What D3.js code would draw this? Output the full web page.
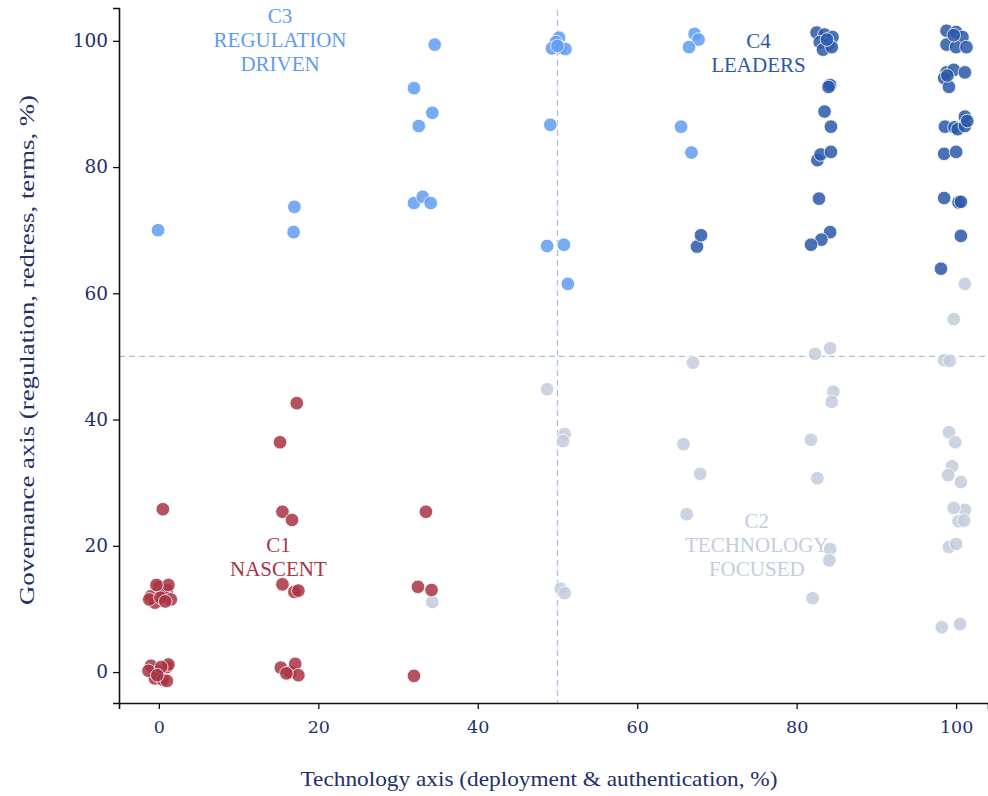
<!DOCTYPE html>
<html><head><meta charset="utf-8">
<script src="https://cdn.jsdelivr.net/npm/d3@7"></script>
<style>
html,body{margin:0;padding:0;background:#fff;}
svg{display:block;}
</style></head>
<body>
<svg id="chart" width="988" height="796"></svg>
<script>
// ---- data ----
const clusterNames = ["C1", "C2", "C3", "C4"];
const clusterLabels = [["C1","NASCENT"],["C2","TECHNOLOGY","FOCUSED"],["C3","REGULATION","DRIVEN"],["C4","LEADERS"]];
const clusterColors = ["#a83444", "#c3cddd", "#5f9cf2", "#2a58a8"];
const xTicks = [0, 20, 40, 60, 80, 100];
const yTicks = [0, 20, 40, 60, 80, 100];
const xTitle = "Technology axis (deployment & authentication, %)";
const yTitle = "Governance axis (regulation, redress, terms, %)";
const c1Points = [
  [-1,12],[0,13.5],[1,13],[-0.5,11],[0.5,12.5],[1.5,11.5],[-1.2,11.5],[0.2,11.8],[1.2,13.8],[-0.3,13.8],[0.8,11.2],
  [-1,1],[0,0],[1,0.8],[-0.5,-1],[0.5,-1.2],[1.2,1.2],[-1.3,0.2],[0.3,0.8],[1,-1.4],[-0.2,-0.5],
  [0.5,25.8],[15.2,36.4],[17.3,42.6],[15.5,25.4],[16.7,24.1],[15.5,13.9],[17.0,12.7],[17.5,12.9],
  [15.3,0.7],[16.5,0],[17.1,1.3],[17.5,-0.5],[16,-0.2],
  [33.5,25.4],[32.5,13.5],[34.2,13.0],[32.0,-0.6]
];
const c2Points = [
  [34.3,11.1],[48.7,44.8],[50.9,37.7],[50.7,36.6],[50.4,13.2],[50.9,12.5],
  [67.0,49.0],[65.8,36.1],[67.9,31.4],[66.2,25.0],
  [82.3,50.4],[84.2,51.3],[84.6,44.4],[84.4,42.8],[81.8,36.8],[82.6,30.7],[84.2,19.5],[84.1,17.7],[82.0,11.7],
  [101.1,61.5],[99.7,55.9],[98.5,49.4],[99.2,49.3],[99.1,38.0],[99.9,36.4],[99.5,32.6],[99.0,31.2],[100.6,30.1],
  [101.1,25.7],[99.7,26.0],[100.3,23.9],[101.0,24.0],[99.1,19.8],[100.0,20.3],[98.2,7.1],[100.5,7.6]
];
const c3Points = [
  [-0.1,70.0],[17.0,73.7],[16.9,69.7],
  [32.0,92.5],[34.6,99.4],[32.6,86.5],[34.3,88.6],[32.0,74.3],[33.1,75.3],[34.1,74.3],
  [49.1,86.7],[48.7,67.5],[50.8,67.7],[51.3,61.5],
  [50.2,100.5],[49.8,99.8],[49.3,98.8],[50.4,98.9],[51.0,98.7],[50.0,99.2],
  [67.2,101.1],[67.7,100.2],[66.5,99.0],[65.5,86.4],[66.8,82.3]
];
const c4Points = [
  [67.5,67.4],[68.0,69.2],
  [82.5,101.3],[83.5,101.0],[84.5,100.6],[82.9,99.8],[84.0,99.4],[83.3,98.6],[84.4,99.0],[83.8,100.2],
  [84.2,93.0],[84.0,92.7],[83.5,88.8],[84.3,86.4],[82.6,81.1],[83.0,82.0],[84.3,82.4],
  [82.8,75.0],[84.2,69.7],[83.1,68.5],[81.8,67.7],
  [98.8,101.6],[100.0,101.4],[100.8,100.6],[98.8,99.4],[100.0,99.0],[101.3,99.0],[99.7,100.9],
  [98.8,95.0],[99.7,95.4],[101.1,95.0],[98.5,94.1],[99.1,92.7],[98.9,94.5],
  [98.6,86.4],[99.8,86.3],[100.2,86.0],[101.1,86.5],[101.1,88.0],[101.4,87.3],
  [98.5,82.1],[100.0,82.4],[98.5,75.1],[100.3,74.4],[100.6,74.5],[100.6,69.1],[98.1,63.9]
];
const clusterPoints = [c1Points, c2Points, c3Points, c4Points];
// label anchor positions in data units
const labelAnchors = [[15, 19.0], [75, 22.8], [15.2, 102.8], [75.2, 98.9]];
const drawOrder = [1, 0, 2, 3];

// ---- layout ----
const svg = d3.select("#chart");
const serif = "'Liberation Serif', 'Times New Roman', serif";
const x = d3.scaleLinear().domain([-5, 104]).range([119, 988]);
const y = d3.scaleLinear().domain([-4.9, 105.2]).range([703, 8]);
const navy = "#22306a";
const dashColor = "#aebfdc";

// reference lines
svg.append("line").attr("x1", x(50)).attr("x2", x(50)).attr("y1", y(104.9)).attr("y2", y(-4.9))
  .attr("stroke", dashColor).attr("stroke-width", 1.3).attr("stroke-dasharray", "6,4");
svg.append("line").attr("x1", x(-5)).attr("x2", x(104)).attr("y1", y(50)).attr("y2", y(50))
  .attr("stroke", dashColor).attr("stroke-width", 1.3).attr("stroke-dasharray", "6,4");

// axes
const xAxis = svg.append("g").attr("transform", "translate(0,703)")
  .call(d3.axisBottom(x).tickValues(xTicks).tickSize(6).tickPadding(12));
const yAxis = svg.append("g").attr("transform", "translate(119,0)")
  .call(d3.axisLeft(y).tickValues(yTicks).tickSize(6).tickPadding(5));
[xAxis, yAxis].forEach(g => {
  g.attr("font-family", null).attr("font-size", null);
  g.select(".domain").attr("stroke", "#111").attr("stroke-width", 1.6);
  g.selectAll(".tick line").attr("stroke", "#111").attr("stroke-width", 1.3);
  g.selectAll(".tick text").attr("fill", navy)
    .style("font-family", "'DejaVu Serif', serif");
});
xAxis.selectAll(".tick text").style("font-size", "17.5px");
yAxis.selectAll(".tick text").style("font-size", "18.5px");

// axis titles
svg.append("text").attr("x", 539).attr("y", 786).attr("text-anchor", "middle")
  .attr("fill", navy).style("font-family", serif).style("font-size", "21px")
  .attr("textLength", 477).attr("lengthAdjust", "spacingAndGlyphs")
  .text(xTitle);
svg.append("text").attr("transform", "translate(34,350) rotate(-90)").attr("text-anchor", "middle")
  .attr("fill", navy).style("font-family", serif).style("font-size", "21px")
  .attr("textLength", 510).attr("lengthAdjust", "spacingAndGlyphs")
  .text(yTitle);

// points
drawOrder.forEach(ci => {
  svg.append("g").selectAll("circle").data(clusterPoints[ci]).join("circle")
    .attr("cx", d => x(d[0])).attr("cy", d => y(d[1])).attr("r", 6.8)
    .attr("fill", clusterColors[ci]).attr("fill-opacity", 0.85)
    .attr("stroke", "#fff").attr("stroke-opacity", 0.8).attr("stroke-width", 1);
});

// cluster labels
clusterLabels.forEach((lines, ci) => {
  const t = svg.append("text").attr("text-anchor", "middle")
    .attr("fill", clusterColors[ci]).style("font-family", serif).style("font-size", "21px");
  lines.forEach((s, i) => {
    t.append("tspan").attr("x", x(labelAnchors[ci][0]))
      .attr("y", y(labelAnchors[ci][1]) + i * 24).text(s);
  });
});
</script>
</body></html>
